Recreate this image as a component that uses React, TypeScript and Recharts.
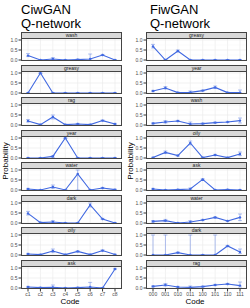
import React from 'react';
import { LineChart, Line, XAxis, YAxis, ErrorBar, ReferenceLine } from 'recharts';

// ---------- data ----------
const ciwCodes = ['c1', 'c2', 'c3', 'c4', 'c5', 'c6', 'c7', 'c8'];
const fiwCodes = ['000', '001', '010', '011', '100', '101', '110', '111'];
const yTicks = [0, 0.5, 1];
const yMinor = [0.25, 0.75];

const ciwWords = ['wash', 'greasy', 'rag', 'year', 'water', 'dark', 'oily', 'ask'];
const ciwMean = [
  [0.22, 0.0, 0.05, 0.0, 0.02, 0.05, 0.25, 0.0],
  [0.0, 1.0, 0.0, 0.0, 0.0, 0.0, 0.0, 0.0],
  [0.2, 0.02, 0.4, 0.02, 0.05, 0.02, 0.22, 0.05],
  [0.0, 0.0, 0.08, 1.0, 0.0, 0.0, 0.0, 0.0],
  [0.05, 0.0, 0.15, 0.0, 0.8, 0.0, 0.1, 0.02],
  [0.48, 0.02, 0.05, 0.0, 0.0, 0.9, 0.2, 0.0],
  [0.05, 0.02, 0.2, 0.02, 0.18, 0.02, 0.22, 0.02],
  [0.05, 0.02, 0.03, 0.0, 0.02, 0.05, 0.0, 0.95],
];
const ciwLo = [
  [0.17, 0.0, 0.0, 0.0, 0.0, 0.0, 0.22, 0.0],
  [0.0, 0.98, 0.0, 0.0, 0.0, 0.0, 0.0, 0.0],
  [0.15, 0.0, 0.3, 0.0, 0.02, 0.0, 0.2, 0.02],
  [0.0, 0.0, 0.02, 0.98, 0.0, 0.0, 0.0, 0.0],
  [0.02, 0.0, 0.08, 0.0, 0.0, 0.0, 0.07, 0.0],
  [0.4, 0.0, 0.0, 0.0, 0.0, 0.8, 0.17, 0.0],
  [0.02, 0.0, 0.12, 0.0, 0.15, 0.0, 0.18, 0.0],
  [0.02, 0.0, 0.0, 0.0, 0.0, 0.0, 0.0, 0.92],
];
const ciwHi = [
  [0.32, 0.02, 0.12, 0.02, 0.05, 0.3, 0.28, 0.02],
  [0.02, 1.0, 0.02, 0.02, 0.02, 0.02, 0.02, 0.02],
  [0.27, 0.04, 0.5, 0.04, 0.08, 0.04, 0.25, 0.08],
  [0.02, 0.02, 0.12, 1.0, 0.02, 0.02, 0.02, 0.02],
  [0.08, 0.02, 0.25, 0.02, 1.0, 0.02, 0.13, 0.04],
  [0.58, 0.05, 0.12, 0.02, 0.02, 1.0, 0.23, 0.02],
  [0.08, 0.04, 0.3, 0.04, 0.21, 0.05, 0.26, 0.04],
  [0.08, 0.04, 0.15, 0.02, 0.04, 0.28, 0.02, 0.98],
];

const fiwWords = ['greasy', 'year', 'wash', 'oily', 'ask', 'water', 'dark', 'rag'];
const fiwMean = [
  [0.68, 0.0, 0.45, 0.0, 0.0, 0.0, 0.0, 0.0],
  [0.1, 0.25, 0.02, 0.03, 0.12, 0.28, 0.02, 0.02],
  [0.08, 0.15, 0.2, 0.05, 0.07, 0.12, 0.15, 0.22],
  [0.02, 0.28, 0.12, 0.75, 0.02, 0.15, 0.02, 0.2],
  [0.05, 0.0, 0.02, 0.05, 0.53, 0.0, 0.02, 0.0],
  [0.08, 0.12, 0.0, 0.05, 0.15, 0.28, 0.1, 0.28],
  [0.0, 0.0, 0.12, 0.0, 0.0, 0.0, 0.45, 0.15],
  [0.08, 0.15, 0.05, 0.03, 0.07, 0.15, 0.2, 0.12],
];
const fiwLo = [
  [0.6, 0.0, 0.4, 0.0, 0.0, 0.0, 0.0, 0.0],
  [0.07, 0.2, 0.0, 0.0, 0.09, 0.22, 0.0, 0.0],
  [0.05, 0.1, 0.17, 0.0, 0.04, 0.09, 0.12, 0.1],
  [0.0, 0.22, 0.09, 0.66, 0.0, 0.12, 0.0, 0.12],
  [0.02, 0.0, 0.0, 0.0, 0.5, 0.0, 0.0, 0.0],
  [0.04, 0.08, 0.0, 0.0, 0.12, 0.25, 0.07, 0.12],
  [0.0, 0.0, 0.09, 0.0, 0.0, 0.0, 0.42, 0.08],
  [0.05, 0.1, 0.02, 0.0, 0.04, 0.12, 0.17, 0.05],
];
const fiwHi = [
  [0.78, 0.02, 0.5, 0.02, 0.02, 0.02, 0.02, 0.02],
  [0.13, 0.32, 0.04, 0.1, 0.15, 0.35, 0.04, 0.15],
  [0.11, 0.22, 0.23, 0.15, 0.1, 0.15, 0.18, 0.35],
  [0.04, 0.35, 0.15, 0.85, 0.04, 0.18, 0.04, 0.3],
  [0.08, 0.02, 0.04, 0.1, 0.56, 0.02, 0.04, 0.02],
  [0.12, 0.18, 0.02, 0.12, 0.18, 0.31, 0.13, 0.45],
  [1.0, 1.0, 0.15, 1.0, 0.02, 1.0, 0.48, 0.3],
  [0.11, 0.22, 0.08, 0.1, 0.1, 0.18, 0.23, 0.3],
];

// ---------- styling / layout ----------
const BLUE = '#4169E1';
const FONT = '"Liberation Sans", Arial, Helvetica, sans-serif';
const STRIP_H = 7;
const PLOT_H = 22;
const PLOT_W = 101;
const Y_W = 21;
const FIRST_TOP = 32;
const PITCH = 32.5;

type PanelProps = {
  codes: string[];
  mean: number[];
  lo: number[];
  hi: number[];
  label: string;
  left: number;
  top: number;
  showX: boolean;
};

function Panel({ codes, mean, lo, hi, label, left, top, showX }: PanelProps) {
  const data = codes.map((c, i) => ({
    code: c,
    p: mean[i],
    err: [Math.max(0, mean[i] - lo[i]), Math.max(0, hi[i] - mean[i])],
  }));
  const mTop = 3;
  const mBottom = showX ? 0 : 3;
  const xH = showX ? 12 : 0;
  const h = mTop + PLOT_H + mBottom + xH;
  return (
    <>
      <div
        style={{
          position: 'absolute',
          left: left + Y_W,
          top,
          width: PLOT_W,
          height: STRIP_H,
          boxSizing: 'border-box',
          background: '#d9d9d9',
          border: '1px solid #444',
          fontSize: 5,
          color: '#1a1a1a',
          display: 'flex',
          alignItems: 'center',
          justifyContent: 'center',
          lineHeight: 1,
        }}
      >
        {label}
      </div>
      <div style={{ position: 'absolute', left, top: top + STRIP_H - mTop }}>
        <LineChart
          width={Y_W + PLOT_W + 1}
          height={h}
          data={data}
          margin={{ top: mTop, right: 1, left: 0, bottom: mBottom }}
        >
          {codes.map((c) => (
            <ReferenceLine key={'v' + c} x={c} stroke="#ebebeb" strokeWidth={0.7} />
          ))}
          {yMinor.map((v) => (
            <ReferenceLine key={'m' + v} y={v} stroke="#f4f4f4" strokeWidth={0.5} />
          ))}
          {yTicks.map((v) => (
            <ReferenceLine key={'h' + v} y={v} stroke="#ebebeb" strokeWidth={0.7} />
          ))}
          <XAxis
            dataKey="code"
            hide={!showX}
            padding={{ left: 7, right: 7 }}
            height={xH}
            tickSize={2.5}
            tickMargin={1}
            axisLine={false}
            tickLine={{ stroke: '#333' }}
            tick={{ fontSize: 5, fill: '#4d4d4d' }}
            interval={0}
          />
          <YAxis
            type="number"
            domain={[-0.05, 1.05]}
            ticks={yTicks}
            allowDataOverflow
            width={Y_W}
            tickSize={2.5}
            tickMargin={1}
            axisLine={false}
            tickLine={{ stroke: '#333' }}
            tick={{ fontSize: 5, fill: '#4d4d4d' }}
            tickFormatter={(v: number) => v.toFixed(1)}
            interval={0}
          />
          <Line
            dataKey="p"
            stroke={BLUE}
            strokeWidth={1.1}
            dot={{ r: 1.2, fill: BLUE, stroke: BLUE, strokeWidth: 0 }}
            isAnimationActive={false}
          >
            <ErrorBar
              dataKey="err"
              width={2}
              stroke="rgba(65,105,225,0.5)"
              strokeWidth={0.8}
              direction="y"
              isAnimationActive={false}
            />
          </Line>
        </LineChart>
      </div>
      <div
        style={{
          position: 'absolute',
          left: left + Y_W,
          top: top + STRIP_H,
          width: PLOT_W,
          height: PLOT_H,
          boxSizing: 'border-box',
          borderLeft: '1px solid #444',
          borderRight: '1px solid #444',
          borderBottom: '1px solid #444',
          pointerEvents: 'none',
        }}
      />
    </>
  );
}

export default function App() {
  const cols = [
    { left: 0, codes: ciwCodes, words: ciwWords, mean: ciwMean, lo: ciwLo, hi: ciwHi },
    { left: 125, codes: fiwCodes, words: fiwWords, mean: fiwMean, lo: fiwLo, hi: fiwHi },
  ];
  return (
    <div
      style={{
        position: 'absolute',
        left: 0,
        top: 0,
        width: 250,
        height: 308,
        background: '#fff',
        fontFamily: FONT,
        overflow: 'hidden',
      }}
    >
      {cols.map((col) =>
        col.words.map((w, i) => (
          <Panel
            key={col.left + w}
            codes={col.codes}
            mean={col.mean[i]}
            lo={col.lo[i]}
            hi={col.hi[i]}
            label={w}
            left={col.left}
            top={FIRST_TOP + i * PITCH}
            showX={i === col.words.length - 1}
          />
        ))
      )}
      <svg
        width={250}
        height={308}
        style={{ position: 'absolute', left: 0, top: 0, pointerEvents: 'none' }}
        fontFamily={FONT}
      >
        <text x={21} y={13.6} fontSize={13} fill="#000">CiwGAN</text>
        <text x={21} y={28} fontSize={13} fill="#000">Q-network</text>
        <text x={150} y={13.6} fontSize={13} fill="#000">FiwGAN</text>
        <text x={150} y={28} fontSize={13} fill="#000">Q-network</text>
        <text x={70} y={304} fontSize={8} textAnchor="middle" fill="#000">Code</text>
        <text x={195} y={304} fontSize={8} textAnchor="middle" fill="#000">Code</text>
        <text transform="translate(7.5,161) rotate(-90)" fontSize={8} textAnchor="middle" fill="#000">Probability</text>
        <text transform="translate(133,161) rotate(-90)" fontSize={8} textAnchor="middle" fill="#000">Probability</text>
      </svg>
    </div>
  );
}
